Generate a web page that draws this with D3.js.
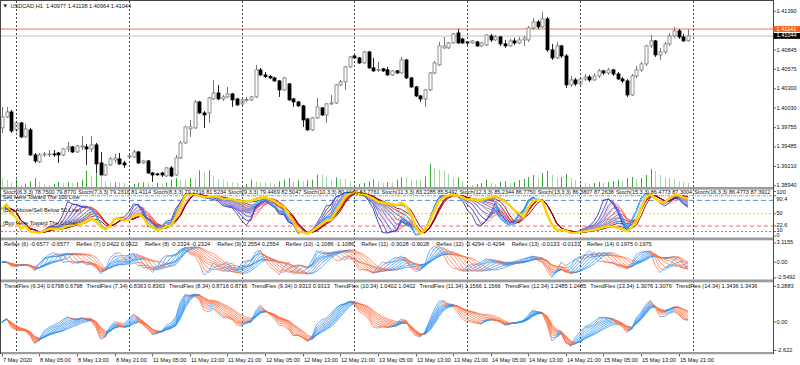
<!DOCTYPE html>
<html><head><meta charset="utf-8">
<script src="https://cdn.jsdelivr.net/npm/d3@7/dist/d3.min.js"></script>
<style>
html,body{margin:0;padding:0;background:#fff;}
svg{display:block;font-family:"Liberation Sans",Arial,sans-serif;}
text{font-size:5.6px;fill:#111;}
</style></head><body>
<svg id="c" width="800" height="365"></svg>
<script>
// ---------------- DATA ----------------
const symbol = "USDCAD,H1";
const open = [1.39752,1.39906,1.39976,1.39724,1.39822,1.39625,1.39724,1.39372,1.39274,1.39372,
1.39379,1.39386,1.39400,1.39372,1.39457,1.39485,1.39414,1.39485,1.39485,1.39457,
1.39513,1.39260,1.39091,1.39232,1.39302,1.39316,1.39260,1.39344,1.39344,1.39414,
1.39260,1.39288,1.39119,1.39105,1.39119,1.39077,1.39190,1.39091,1.39330,1.39541,
1.39738,1.39752,1.40117,1.39962,1.39962,1.40159,1.40243,1.40159,1.40187,1.40229,
1.40159,1.40089,1.40145,1.40145,1.40187,1.40567,1.40496,1.40475,1.40454,1.40412,
1.40286,1.40370,1.40159,1.40117,1.40061,1.39878,1.39724,1.39892,1.40033,1.39934,
1.40089,1.40103,1.40356,1.40398,1.40609,1.40763,1.40735,1.40665,1.40819,1.40595,
1.40567,1.40581,1.40567,1.40496,1.40553,1.40524,1.40707,1.40454,1.40328,1.40201,
1.40159,1.40286,1.40524,1.40637,1.40876,1.40876,1.40946,1.41086,1.41002,1.40960,
1.40946,1.40960,1.40904,1.40918,1.41044,1.40988,1.41030,1.40932,1.40904,1.40974,
1.40946,1.40988,1.40988,1.41157,1.41241,1.41171,1.41283,1.40848,1.40735,1.40904,
1.40763,1.40356,1.40426,1.40370,1.40440,1.40468,1.40426,1.40482,1.40553,1.40524,
1.40567,1.40510,1.40440,1.40412,1.40215,1.40482,1.40567,1.40651,1.40904,1.40974,
1.40777,1.40819,1.40932,1.41044,1.41115,1.41030,1.40977];
const high = [1.40047,1.40047,1.40005,1.39850,1.39836,1.39808,1.39752,1.39400,1.39400,1.39414,
1.39443,1.39443,1.39414,1.39471,1.39555,1.39499,1.39513,1.39639,1.39527,1.39639,
1.39541,1.39414,1.39246,1.39344,1.39386,1.39400,1.39288,1.39372,1.39443,1.39429,
1.39302,1.39302,1.39133,1.39119,1.39133,1.39204,1.39218,1.39372,1.39569,1.39780,
1.39864,1.40145,1.40131,1.39990,1.40187,1.40426,1.40356,1.40215,1.40328,1.40243,
1.40173,1.40173,1.40187,1.40201,1.40637,1.40595,1.40538,1.40496,1.40468,1.40426,
1.40468,1.40384,1.40173,1.40131,1.40075,1.39892,1.39906,1.40173,1.40047,1.40103,
1.40215,1.40370,1.40426,1.40623,1.40763,1.40777,1.40749,1.40834,1.40834,1.40735,
1.40679,1.40595,1.40609,1.40567,1.40567,1.40749,1.40721,1.40468,1.40342,1.40215,
1.40300,1.40538,1.40693,1.40960,1.41030,1.40960,1.41086,1.41143,1.41016,1.40974,
1.40988,1.40974,1.40960,1.41072,1.41072,1.41058,1.41044,1.40988,1.41002,1.41016,
1.41030,1.41044,1.41185,1.41297,1.41269,1.41381,1.41311,1.40932,1.40960,1.40918,
1.40791,1.40482,1.40454,1.40468,1.40510,1.40496,1.40524,1.40581,1.40567,1.40595,
1.40581,1.40538,1.40468,1.40440,1.40510,1.40623,1.40679,1.40918,1.41058,1.40988,
1.40876,1.40960,1.41086,1.41171,1.41143,1.41072,1.41138];
const low = [1.39681,1.39892,1.39681,1.39696,1.39611,1.39611,1.39358,1.39260,1.39260,1.39344,
1.39344,1.39344,1.39260,1.39358,1.39414,1.39400,1.39400,1.39443,1.39232,1.39414,
1.39119,1.39091,1.39077,1.39218,1.39260,1.39232,1.39190,1.39330,1.39330,1.39246,
1.39246,1.39105,1.38993,1.39077,1.39063,1.39063,1.39063,1.39077,1.39316,1.39527,
1.39625,1.39738,1.39948,1.39752,1.39822,1.40145,1.40145,1.40131,1.40173,1.40047,
1.40061,1.40061,1.40117,1.40131,1.40173,1.40482,1.40454,1.40440,1.40398,1.40187,
1.40272,1.40131,1.40047,1.40047,1.39766,1.39710,1.39710,1.39878,1.39920,1.39822,
1.40075,1.40089,1.40342,1.40286,1.40595,1.40721,1.40651,1.40651,1.40581,1.40538,
1.40538,1.40538,1.40482,1.40482,1.40510,1.40510,1.40440,1.40314,1.40187,1.40117,
1.40047,1.40272,1.40510,1.40623,1.40862,1.40862,1.40932,1.40932,1.40932,1.40918,
1.40932,1.40890,1.40890,1.40904,1.40960,1.40974,1.40904,1.40876,1.40890,1.40918,
1.40932,1.40904,1.40960,1.41129,1.41143,1.41157,1.40819,1.40707,1.40721,1.40735,
1.40314,1.40328,1.40342,1.40356,1.40412,1.40398,1.40412,1.40454,1.40496,1.40496,
1.40482,1.40426,1.40384,1.40187,1.40201,1.40454,1.40538,1.40623,1.40876,1.40749,
1.40707,1.40791,1.40904,1.41016,1.41002,1.40960,1.40964];
const close = [1.39906,1.39976,1.39710,1.39822,1.39625,1.39738,1.39372,1.39288,1.39372,1.39386,
1.39386,1.39379,1.39372,1.39457,1.39485,1.39414,1.39499,1.39499,1.39457,1.39513,
1.39246,1.39091,1.39232,1.39316,1.39330,1.39246,1.39232,1.39358,1.39414,1.39260,
1.39288,1.39119,1.39091,1.39098,1.39091,1.39190,1.39077,1.39330,1.39541,1.39766,
1.39766,1.40117,1.39962,1.39934,1.40173,1.40243,1.40159,1.40187,1.40229,1.40145,
1.40075,1.40145,1.40152,1.40187,1.40567,1.40496,1.40475,1.40454,1.40412,1.40286,
1.40454,1.40145,1.40117,1.40061,1.39864,1.39724,1.39892,1.40047,1.39934,1.40089,
1.40103,1.40356,1.40398,1.40609,1.40749,1.40735,1.40665,1.40819,1.40595,1.40553,
1.40574,1.40553,1.40496,1.40553,1.40524,1.40707,1.40454,1.40328,1.40201,1.40159,
1.40286,1.40524,1.40665,1.40904,1.40904,1.40946,1.41072,1.40946,1.40946,1.40946,
1.40974,1.40904,1.40946,1.41058,1.40988,1.41030,1.40932,1.40904,1.40974,1.40946,
1.40988,1.41016,1.41157,1.41241,1.41171,1.41283,1.40848,1.40735,1.40904,1.40763,
1.40356,1.40426,1.40370,1.40440,1.40468,1.40426,1.40482,1.40553,1.40524,1.40567,
1.40510,1.40440,1.40412,1.40215,1.40482,1.40567,1.40651,1.40904,1.40974,1.40777,
1.40819,1.40932,1.41044,1.41115,1.41030,1.40974,1.41044];
const volume = [900,730,470,730,230,330,570,900,570,230,230,300,500,400,470,400,470,730,1630,1130,
1570,1230,570,400,470,470,400,230,330,400,470,470,230,400,330,470,730,900,730,730,
900,900,1670,1470,1670,1070,800,730,570,470,400,200,300,730,570,470,470,400,330,570,
730,900,570,670,570,670,730,1230,1230,970,730,970,800,800,570,230,300,400,570,730,
570,400,470,470,730,970,970,730,730,730,1070,2300,1900,1730,1670,1300,900,970,570,230,
200,300,400,730,400,300,500,600,400,500,700,800,1000,1200,900,1400,1600,1200,900,1000,
1300,900,700,500,400,300,400,500,400,500,600,700,600,900,1000,800,900,1200,1800,1600,
1200,1000,900,800,600,500,400];
const timeLabels = ["7 May 2020","8 May 05:00","8 May 13:00","8 May 21:00","11 May 05:00","11 May 13:00",
"11 May 21:00","12 May 05:00","12 May 13:00","12 May 21:00","13 May 05:00","13 May 13:00","13 May 21:00",
"14 May 05:00","14 May 13:00","14 May 21:00","15 May 05:00","15 May 13:00","15 May 21:00"];
const timeLabelBars = [0,8,16,24,32,40,48,56,64,72,80,88,96,104,112,120,128,136,144];
const dayStartBars = [3,27,51,75,99,123,147];
const priceTicks = [1.41390,1.40845,1.40575,1.40300,1.40030,1.39755,1.39485,1.39210,1.38940];
const askLevel = 1.41141;
const bidLevel = 1.41044;
const stochPeriods = [6,7,8,9,10,11,12,13,15];
const stochYellowPeriod = 16;
const stochLevels = [90.4,80,50,22.6,10];
const stochTicks = [100,90.4,50,22.6,10,0];
const stochLegend = ["Stoch(6,3,3) 78.7500 79.8770","Stoch(7,3,3) 79.2316 81.4114","Stoch(8,3,3) 79.2316 81.5234",
"Stoch(9,3,3) 79.4469 82.5047","Stoch(10,3,3) 80.4460 83.7761","Stoch(11,3,3) 83.2285 85.5492",
"Stoch(12,3,3) 85.2344 86.7750","Stoch(13,3,3) 86.3807 87.2638","Stoch(15,3,3) 86.4773 87.3004",
"Stoch(16,3,3) 86.4773 87.3912"];
const stochNotes = ["Sell Here Toward The 100 Line","(Buy Above/Sell Below 50 Line)","(Buy Here Toward The 0 Line)"];
const reflexPeriods = [6,7,8,9,10,11,12,13,14];
const reflexLegend = ["Reflex (6) -0.6577 -0.6577","Reflex (7) 0.0422 0.0422","Reflex (8) -0.2324 -0.2324",
"Reflex (9) 0.2554 0.2554","Reflex (10) -1.1086 -1.1086","Reflex (11) -0.9028 -0.9028","Reflex (12) -0.4294 -0.4294",
"Reflex (13) -0.0133 -0.0133","Reflex (14) 0.1975 0.1975"];
const reflexRange = [-2.5492,3.1155];
const trendflexPeriods = [6,7,8,9,10,11,12,13,14];
const trendflexLegend = ["TrendFlex (6.34) 0.6798 0.6798","TrendFlex (7.34) 0.8363 0.8363","TrendFlex (8.34) 0.8716 0.8716",
"TrendFlex (9.34) 0.9313 0.9313","TrendFlex (10.34) 1.0402 1.0402","TrendFlex (11.34) 1.1566 1.1566",
"TrendFlex (12.34) 1.2485 1.2485","TrendFlex (13.34) 1.3076 1.3076","TrendFlex (14.34) 1.3436 1.3436"];
const trendflexRange = [-2.622,3.2883];

// ---------------- LAYOUT ----------------
const svg = d3.select("#c");
const X0 = 1, X1 = 773;
const P = {main:{t:1,b:187}, st:{t:190,b:237.5}, rf:{t:240.5,b:279.5}, tf:{t:282.5,b:352}};
const n = close.length;
const x = d3.scaleLinear().domain([0,147]).range([1.9,692.8]);
const yP = d3.scaleLinear().domain([1.38940,1.41390]).range([185.7,11.3]);
const yS = d3.scaleLinear().domain([0,100]).range([236,191.5]);
const yR = d3.scaleLinear().domain(reflexRange).range([278,243]);
const yT = d3.scaleLinear().domain(trendflexRange).range([350.5,286.5]);
const yV = d3.scaleLinear().domain([0,2300]).range([0,23]);

const defs = svg.append("defs");
Object.entries(P).forEach(([k,p])=>{
  defs.append("clipPath").attr("id","clip-"+k).append("rect")
    .attr("x",X0).attr("y",p.t).attr("width",X1-X0).attr("height",p.b-p.t);
});
const g = k => svg.append("g").attr("clip-path","url(#clip-"+k+")");

// ---------------- INDICATORS (computed from the price arrays) ----------------
function stoch(k){
  const num=[],den=[],main=[],sig=[];
  for(let i=0;i<n;i++){
    const s=Math.max(0,i-k+1);
    const hh=d3.max(high.slice(s,i+1)), ll=d3.min(low.slice(s,i+1));
    num.push(close[i]-ll); den.push(hh-ll);
  }
  for(let i=0;i<n;i++){
    const s=Math.max(0,i-2);
    const a=d3.sum(num.slice(s,i+1)), b=d3.sum(den.slice(s,i+1));
    main.push(b>0?100*a/b:50);
  }
  for(let i=0;i<n;i++){const s=Math.max(0,i-2); sig.push(d3.mean(main.slice(s,i+1)));}
  return {main,sig};
}
function ehlers(L,type){
  const a1=Math.exp(-1.414*Math.PI/(0.5*L));
  const b1=2*a1*Math.cos(1.414*Math.PI/(0.5*L));
  const c2=b1,c3=-a1*a1,c1=1-c2-c3;
  const f=[];
  for(let i=0;i<n;i++){
    if(i<2) f.push(close[i]);
    else f.push(c1*(close[i]+close[i-1])/2+c2*f[i-1]+c3*f[i-2]);
  }
  const sums=[];
  for(let i=0;i<n;i++){
    const m=Math.min(L,i); let s=0;
    if(m>0){
      const slope=(f[i-m]-f[i])/m;
      for(let c=1;c<=m;c++) s += type==="reflex" ? (f[i]+c*slope)-f[i-c] : f[i]-f[i-c];
      s/=m;
    }
    sums.push(s);
  }
  let ms=d3.mean(sums,s=>s*s);
  return sums.map(s=>{ms=0.04*s*s+0.96*ms; return ms>0?s/Math.sqrt(ms):0;});
}

// ---------------- MAIN PANEL ----------------
svg.append("rect").attr("x",0).attr("y",0).attr("width",800).attr("height",365).attr("fill","#fff");
const gm = g("main");
gm.selectAll("line.vol").data(volume).join("line")
  .attr("x1",(d,i)=>Math.round(x(i))+0.5).attr("x2",(d,i)=>Math.round(x(i))+0.5)
  .attr("y1",P.main.b).attr("y2",d=>P.main.b-yV(d))
  .attr("stroke",(d,i)=> i>0 && d>volume[i-1] ? "#3aa83a" : "#a3d8a3").attr("stroke-width",1);

svg.append("g").selectAll("line").data(dayStartBars).join("line")
  .attr("x1",d=>Math.round(x(d))+0.5).attr("x2",d=>Math.round(x(d))+0.5)
  .attr("y1",1).attr("y2",352).attr("stroke","#333").attr("stroke-width",0.9).attr("stroke-dasharray","2,2");

gm.append("line").attr("x1",X0).attr("x2",X1).attr("y1",yP(askLevel)).attr("y2",yP(askLevel))
  .attr("stroke","#f7a488").attr("stroke-width",1.4);
gm.append("line").attr("x1",X0).attr("x2",X1).attr("y1",yP(bidLevel)).attr("y2",yP(bidLevel))
  .attr("stroke","#d6d6d6").attr("stroke-width",1.4);

const cd = d3.range(n);
gm.selectAll("line.wick").data(cd).join("line")
  .attr("x1",i=>Math.round(x(i))+0.5).attr("x2",i=>Math.round(x(i))+0.5)
  .attr("y1",i=>yP(high[i])).attr("y2",i=>yP(low[i]))
  .attr("stroke",i=>close[i]>=open[i]?"#777":"#222").attr("stroke-width",1);
gm.selectAll("rect.body").data(cd).join("rect")
  .attr("x",i=>Math.round(x(i))-1).attr("width",3)
  .attr("y",i=>Math.min(yP(open[i]),yP(close[i])))
  .attr("height",i=>Math.max(0.8,Math.abs(yP(open[i])-yP(close[i]))))
  .attr("fill",i=>close[i]>=open[i]?"#fff":"#000")
  .attr("stroke",i=>close[i]>=open[i]?"#777":"#000").attr("stroke-width",0.8);

svg.append("path").attr("d","M3.2,4.6 L7.2,4.6 L5.2,7.6 Z").attr("fill","#222");
svg.append("text").attr("x",10.5).attr("y",6.2).attr("dominant-baseline","middle").attr("xml:space","preserve")
  .text(symbol+"  "+[open[n-1],high[n-1],low[n-1],close[n-1]].map(v=>v.toFixed(5)).join(" "));

// ---------------- STOCH ----------------
const gs = g("st");
const lvlStyle = {90.4:["#9a9a9a","3,1,1,1",1],80:["#4d8fe0","5,3",1],50:["#f2cc00","2,2",1],22.6:["#ffafaf","4,3",2],10:["#8a8a8a","2,2",1]};
stochLevels.forEach(v=>{
  const s=lvlStyle[v];
  gs.append("line").attr("x1",X0).attr("x2",X1).attr("y1",yS(v)).attr("y2",yS(v))
    .attr("stroke",s[0]).attr("stroke-dasharray",s[1]).attr("stroke-width",s[2]);
});
const blues = ["#2a2a9a","#3333cc","#3d4ee8","#4a6af2","#4f86f6","#3f9ef8","#3ab2fa","#5ac6fc","#8ad6fd"];
const reds = ["#ffc4c4","#ffa6a6","#ff8a8a","#f86a6a","#ee4c4c","#dd3030","#cc1414","#b00808","#900000"];
const stLine = d3.line().x((d,i)=>x(i)).y(d=>yS(d));
const stData = stochPeriods.map(k=>stoch(k));
stData.forEach((s,j)=>{
  gs.append("path").attr("d",stLine(s.sig)).attr("fill","none").attr("stroke",reds[j]).attr("stroke-width",0.9);
});
stData.forEach((s,j)=>{
  gs.append("path").attr("d",stLine(s.main)).attr("fill","none").attr("stroke",blues[j]).attr("stroke-width",0.8);
});
gs.append("path").attr("d",stLine(stoch(stochYellowPeriod).main)).attr("fill","none")
  .attr("stroke","#ffd200").attr("stroke-width",2.4);

// ---------------- REFLEX / TRENDFLEX ----------------
function drawFlex(key,periods,type,yScale){
  const gg = g(key);
  periods.forEach(L=>{
    const v = ehlers(L,type);
    let runs=[], cur=null;
    for(let i=1;i<n;i++){
      const col = v[i]>=v[i-1] ? "#2f8ff5" : "#ff6a3c";
      if(!cur || cur.col!==col){ cur={col,pts:[[i-1,v[i-1]]]}; runs.push(cur); }
      cur.pts.push([i,v[i]]);
    }
    const ln = d3.line().x(d=>x(d[0])).y(d=>yScale(d[1]));
    runs.forEach(r=>gg.append("path").attr("d",ln(r.pts)).attr("fill","none").attr("stroke",r.col).attr("stroke-width",0.7));
  });
}
drawFlex("rf",reflexPeriods,"reflex",yR);
drawFlex("tf",trendflexPeriods,"trendflex",yT);

// ---------------- BORDERS / SEPARATORS ----------------
[[187,2.6],[237.5,2.8],[279.5,2.8],[352,2.2]].forEach(([y,h])=>{
  svg.append("rect").attr("x",0).attr("y",y).attr("width",X1+0.5).attr("height",h).attr("fill","#9c9c9c");
});
svg.append("line").attr("x1",0.5).attr("x2",0.5).attr("y1",0).attr("y2",354).attr("stroke","#444");
svg.append("line").attr("x1",X1+0.5).attr("x2",X1+0.5).attr("y1",0).attr("y2",354).attr("stroke","#444");
svg.append("line").attr("x1",0).attr("x2",X1+0.5).attr("y1",0.5).attr("y2",0.5).attr("stroke","#444");

// ---------------- LEGENDS ----------------
function seqText(strings,x0,y,gap,maxRight){
  const nodes=[]; let cx=x0;
  strings.forEach(s=>{
    const t=svg.append("text").attr("x",cx).attr("y",y).attr("dominant-baseline","middle").text(s);
    nodes.push(t); cx += t.node().getComputedTextLength()+gap;
  });
  if(maxRight && cx-gap>maxRight){
    const k=(maxRight-x0)/(cx-gap-x0);
    let px=x0;
    nodes.forEach(t=>{
      t.style("font-size",(5.6*k)+"px").attr("x",px);
      px += t.node().getComputedTextLength()+gap*k;
    });
  }
}
seqText(stochLegend,3,192.4,2,771);
svg.append("text").attr("x",3).attr("y",197.6).attr("dominant-baseline","middle").text(stochNotes[0]);
svg.append("text").attr("x",3).attr("y",210.2).attr("dominant-baseline","middle").text(stochNotes[1]);
svg.append("text").attr("x",3).attr("y",223.4).attr("dominant-baseline","middle").text(stochNotes[2]);
seqText(reflexLegend,4,244.6,7,771);
seqText(trendflexLegend,4,287,4,771);

// ---------------- RIGHT AXES ----------------
const ax = svg.append("g");
function rightTick(y,label,dy){
  ax.append("line").attr("x1",X1).attr("x2",X1+3).attr("y1",y).attr("y2",y).attr("stroke","#444").attr("stroke-width",0.8);
  ax.append("text").attr("x",X1+3.5).attr("y",y+(dy||0)).attr("dominant-baseline","middle").text(label);
}
priceTicks.forEach(p=>rightTick(yP(p),p.toFixed(5)));
const stochLabelShift = {100:0.6,90.4:3.6,50:0,22.6:0,10:-1,0:-0.6};
stochTicks.forEach(v=>rightTick(yS(v),String(v),stochLabelShift[v]));
[reflexRange[1],0,reflexRange[0]].forEach(v=>rightTick(yR(v), v===0?"0.00":String(v)));
[trendflexRange[1],0,trendflexRange[0]].forEach(v=>rightTick(yT(v), v===0?"0.00":String(v)));
function priceBox(v,fill){
  const y=yP(v);
  ax.append("rect").attr("x",X1+0.5).attr("y",y-2.9).attr("width",26.5).attr("height",5.8).attr("fill",fill);
  ax.append("text").attr("x",X1+3.5).attr("y",y).attr("dominant-baseline","middle").style("fill","#fff").text(v.toFixed(5));
}
priceBox(askLevel,"#ff5e14");
priceBox(bidLevel,"#000");

// ---------------- TIME AXIS ----------------
timeLabelBars.forEach((b,j)=>{
  const xx=Math.round(x(b))+0.5;
  ax.append("line").attr("x1",xx).attr("x2",xx).attr("y1",354).attr("y2",356.5).attr("stroke","#444").attr("stroke-width",0.8);
  ax.append("text").attr("x",xx+0.5).attr("y",360.5).attr("dominant-baseline","middle").text(timeLabels[j]);
});
</script>
</body></html>
